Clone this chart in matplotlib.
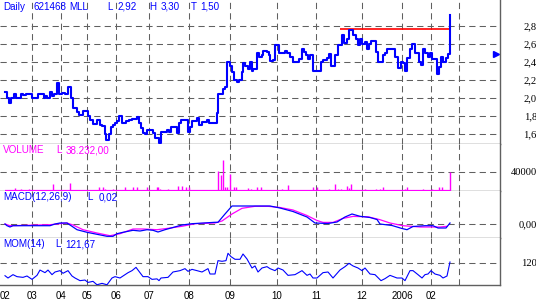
import matplotlib.pyplot as plt

# ---- data (x = trading session position) ----
month_pos = [4.5, 32, 61, 87, 116, 149, 189, 230, 277, 316, 362, 402, 431, 459]
month_lbl = ['02', '03', '04', '05', '06', '07', '08', '09', '10', '11', '12', '2006', '02', '']

price_day = [5, 7, 9, 11, 14, 16, 21, 23, 26, 32, 38, 44, 45, 47, 50, 52, 54, 57, 59, 62,
             65, 68, 71, 73, 77, 79, 83, 88, 90, 93, 97, 100, 102, 105, 106, 109, 111, 113,
             115, 117, 119, 122, 126, 129, 132, 137, 139, 141, 143, 145, 147, 153, 155, 159,
             161, 167, 169, 171, 177, 179, 181, 188, 190, 192, 197, 199, 202, 207, 209, 217,
             218, 223, 225, 227, 230, 232, 234, 237, 239, 242, 243, 245, 248, 250, 252, 253,
             257, 259, 262, 263, 267, 269, 270, 273, 275, 279, 285, 287, 290, 293, 299, 302,
             304, 306, 308, 310, 313, 321, 323, 327, 329, 331, 335, 338, 342, 344, 347, 349,
             353, 356, 358, 360, 362, 365, 367, 369, 371, 376, 378, 383, 385, 387, 395, 398,
             401, 403, 405, 407, 410, 412, 415, 419, 421, 423, 425, 428, 430, 432, 437, 439,
             441, 443, 446, 448, 450]
price = [2.07, 2.00, 1.95, 2.00, 2.045, 2.00, 2.045, 2.03, 2.045, 2.00, 2.045, 2.00, 2.02, 2.00,
         2.07, 2.02, 2.045, 2.17, 2.045, 2.055, 2.045, 2.12, 2.00, 1.89, 1.845, 1.815, 1.855,
         1.80, 1.755, 1.71, 1.76, 1.70, 1.69, 1.60, 1.53, 1.60, 1.675, 1.70, 1.725, 1.74, 1.80,
         1.72, 1.74, 1.755, 1.77, 1.785, 1.725, 1.667, 1.615, 1.60, 1.645, 1.61, 1.56, 1.50,
         1.62, 1.64, 1.62, 1.675, 1.61, 1.725, 1.755, 1.62, 1.68, 1.74, 1.775, 1.70, 1.73, 1.76,
         1.725, 1.83, 2.04, 2.10, 2.12, 2.40, 2.355, 2.29, 2.20, 2.18, 2.20, 2.285, 2.39, 2.355,
         2.32, 2.40, 2.30, 2.32, 2.50, 2.46, 2.48, 2.52, 2.51, 2.48, 2.41, 2.42, 2.59, 2.50,
         2.52, 2.50, 2.46, 2.40, 2.435, 2.55, 2.51, 2.475, 2.435, 2.475, 2.30, 2.40, 2.42, 2.45,
         2.49, 2.36, 2.48, 2.59, 2.70, 2.61, 2.655, 2.76, 2.70, 2.66, 2.59, 2.655, 2.60, 2.62,
         2.55, 2.60, 2.63, 2.51, 2.40, 2.48, 2.50, 2.55, 2.455, 2.335, 2.40, 2.39, 2.30, 2.44,
         2.55, 2.60, 2.50, 2.40, 2.365, 2.55, 2.50, 2.46, 2.50, 2.43, 2.27, 2.34, 2.46, 2.40,
         2.44, 2.49, 2.92]
resistance = 2.765
resistance_span = (340, 450)
last_close_marker = 2.49

vol_day = [15, 21, 29, 53, 70, 99, 103, 105, 113, 125, 133, 137, 147, 157, 158, 160, 168, 178,
           182, 186, 189, 218, 221, 223, 225, 227, 230, 234, 236, 248, 251, 257, 261, 282, 288,
           313, 317, 329, 335, 338, 341, 347, 349, 351, 365, 376, 380, 383, 405, 407, 423, 432,
           439, 442, 450]
volume = [5300, 4000, 4000, 13700, 15100, 8000, 8000, 4000, 4000, 6700, 8000, 6700, 6700, 6700,
          8000, 4000, 4000, 9500, 9500, 8000, 6700, 42000, 32000, 64600, 6700, 6700, 35000, 8000,
          8000, 5300, 4000, 8000, 6700, 3800, 11000, 6700, 6700, 4000, 13700, 3800, 3800, 9500,
          5300, 13700, 4000, 3800, 3800, 6700, 3800, 6700, 4000, 4000, 6700, 8000, 38232]

macd_day = [5, 7, 10, 13, 50, 55, 60, 67, 68, 72, 77, 87, 97, 107, 113, 117, 123, 133, 140, 147,
            153, 158, 165, 182, 192, 215, 218, 225, 232, 255, 270, 280, 293, 307, 315, 328, 337,
            345, 352, 360, 370, 377, 380, 392, 402, 407, 413, 425, 433, 438, 446, 450]
macd = [0.0, -0.017, -0.03, -0.017, -0.017, 0.0, 0.01, 0.01, 0.003, -0.023, -0.057, -0.083,
        -0.103, -0.123, -0.123, -0.097, -0.083, -0.063, -0.07, -0.057, -0.063, -0.08, -0.057,
        -0.01, 0.003, 0.017, 0.017, 0.10, 0.18, 0.18, 0.18, 0.16, 0.125, 0.07, 0.01, 0.005, 0.02,
        0.07, 0.10, 0.077, 0.065, 0.045, 0.0, -0.015, -0.045, -0.057, -0.025, -0.017, -0.017,
        -0.04, -0.04, 0.01]
signal_day = [5, 10, 50, 67, 73, 83, 97, 110, 120, 133, 143, 157, 168, 182, 195, 215, 222, 232,
              242, 255, 268, 280, 293, 307, 317, 323, 333, 343, 353, 368, 380, 390, 403, 420,
              440, 447]
signal = [0.0, -0.017, -0.007, 0.01, -0.01, -0.057, -0.09, -0.117, -0.097, -0.05, -0.05, -0.057,
          -0.043, -0.023, 0.003, 0.01, 0.03, 0.10, 0.157, 0.177, 0.177, 0.165, 0.14, 0.085, 0.035,
          0.016, 0.016, 0.056, 0.076, 0.072, 0.043, 0.01, -0.017, -0.03, -0.03, -0.023]

mom_day = [5, 8, 13, 17, 23, 27, 32, 37, 40, 45, 48, 52, 55, 60, 63, 68, 72, 75, 80, 85, 88, 93,
           97, 102, 107, 112, 115, 120, 123, 128, 132, 136, 139, 143, 148, 152, 157, 159, 161,
           168, 173, 180, 185, 188, 192, 197, 202, 208, 210, 215, 218, 222, 226, 228, 231, 235,
           240, 243, 247, 252, 255, 258, 262, 267, 270, 275, 278, 283, 288, 295, 302, 307, 310,
           313, 317, 323, 328, 333, 340, 345, 349, 353, 358, 362, 365, 370, 375, 381, 385, 390,
           397, 402, 405, 410, 413, 418, 422, 425, 428, 431, 435, 440, 443, 447, 450]
mom = [98.4, 94.5, 100.2, 96.8, 95.6, 97.9, 92.2, 99, 108, 103.6, 108, 100.2, 104.7, 107, 102.5,
       107, 97.9, 94.5, 90, 91, 87, 88.8, 83, 85.4, 83, 94.5, 96.8, 94.5, 97.9, 103.5, 107, 112.6,
       105.8, 96.8, 96.8, 92.2, 93, 90, 94.5, 95.6, 104.7, 107, 110.4, 105.8, 109.2, 107, 104.7,
       110.4, 101.3, 101.3, 124, 122.9, 124, 136.5, 130.8, 126.3, 126.3, 135.3, 126.8, 111.5, 115,
       104.7, 111.5, 113.8, 110.4, 107, 111.5, 108.1, 99, 100.2, 107, 99, 101.3, 94.5, 94.5, 103.6,
       104.7, 94.5, 108.1, 113.8, 119.4, 115, 111.5, 107, 111.5, 101.3, 100.2, 90, 93.4, 99, 94.5,
       94.5, 90, 107, 107, 100.2, 94.5, 100.2, 101.3, 107, 101.3, 99, 94.5, 97.9, 121.67]

# ---- layout (pixel based) ----
W, H = 536, 303
PLOT_R = 500
GRID = '#606060'
DASH = (0, (6, 4))
SANS = 'Liberation Sans'
SERIF = 'Liberation Serif'
BLUE, MAGENTA, RED = '#0000ff', '#ff00ff', '#ff0000'

fig = plt.figure(figsize=(W / 100, H / 100), dpi=100)


def panel(top, bottom, ylim, levels, labels):
    ax = fig.add_axes([0, 1 - bottom / H, PLOT_R / W, (bottom - top) / H])
    ax.set_xlim(0, PLOT_R)
    ax.set_ylim(*ylim)
    for s in ('top', 'left'):
        ax.spines[s].set_visible(False)
    for s in ('bottom', 'right'):
        ax.spines[s].set_color(GRID)
        ax.spines[s].set_linewidth(1.0)
    for m in month_pos[1:]:
        ax.axvline(m, color=GRID, lw=0.75, ls=DASH, zorder=1)
    for lv in levels:
        ax.axhline(lv, color=GRID, lw=0.75, ls=DASH, zorder=1)
    ax.set_xticks([])
    ax.set_yticks(levels)
    ax.set_yticklabels(labels)
    ax.tick_params(axis='y', left=False, right=False, labelleft=False,
                   labelright=True, pad=23, labelsize=7.6)
    for t in ax.get_yticklabels():
        t.set_ha('right')
        t.set_fontfamily(SERIF)
    return ax


def label(x, y, s, color):
    fig.text(x / W, 1 - y / H, s, color=color, fontsize=7.1, family=SANS,
             ha='left', va='baseline')


# price panel
levels = [1.6, 1.8, 2.0, 2.2, 2.4, 2.6, 2.8]
ax1 = panel(0, 144, (1.489, 3.089), levels, [f'{v:.1f}'.replace('.', ',') for v in levels])
ax1.step(price_day, price, where='post', color=BLUE, lw=1.5, zorder=3)
ax1.hlines(resistance, *resistance_span, color=RED, lw=1.2, zorder=2)
ax1.plot([496], [last_close_marker], marker='>', color=BLUE, ms=4.5, clip_on=False)

# volume panel
ax2 = panel(144, 191, (-1050, 97900), [40000], ['40000'])
ax2.vlines(vol_day, 0, volume, color=MAGENTA, lw=1.0, zorder=3)
ax2.hlines(0, price_day[0], price_day[-1], color=MAGENTA, lw=1.6, zorder=3)

# MACD panel
ax3 = panel(191, 238, (-0.14, 0.33), [0.0], ['0,00'])
ax3.plot(signal_day, signal, color=MAGENTA, lw=0.9, zorder=3)
ax3.plot(macd_day, macd, color=BLUE, lw=0.9, zorder=4)

# momentum panel
ax4 = panel(238, 285, (82.6, 162.5), [120], ['120'])
ax4.plot(mom_day, mom, color=BLUE, lw=0.8, zorder=3)
ax4.set_xticks(month_pos)
ax4.set_xticklabels(month_lbl)
ax4.tick_params(axis='x', length=0, pad=4, labelsize=7.0)
for t in ax4.get_xticklabels():
    t.set_fontfamily(SANS)

# panel headers
for x, s in [(3, 'Daily'), (33, '621468'), (69, 'MLL'), (107, 'L'), (117, '2,92'),
             (149, 'H'), (161, '3,30'), (191, 'T'), (200, '1,50')]:
    label(x, 9.5, s, BLUE)
for x, s in [(3, 'VOLUME'), (56, 'L'), (66, '38.232,00')]:
    label(x, 153.3, s, MAGENTA)
for x, s in [(3, 'MACD(12,26,9)'), (87, 'L'), (99, '0,02')]:
    label(x, 200.5, s, BLUE)
for x, s in [(3, 'MOM(14)'), (55, 'L'), (65, '121,67')]:
    label(x, 247.3, s, BLUE)

fig.savefig('out.png', dpi=100)
